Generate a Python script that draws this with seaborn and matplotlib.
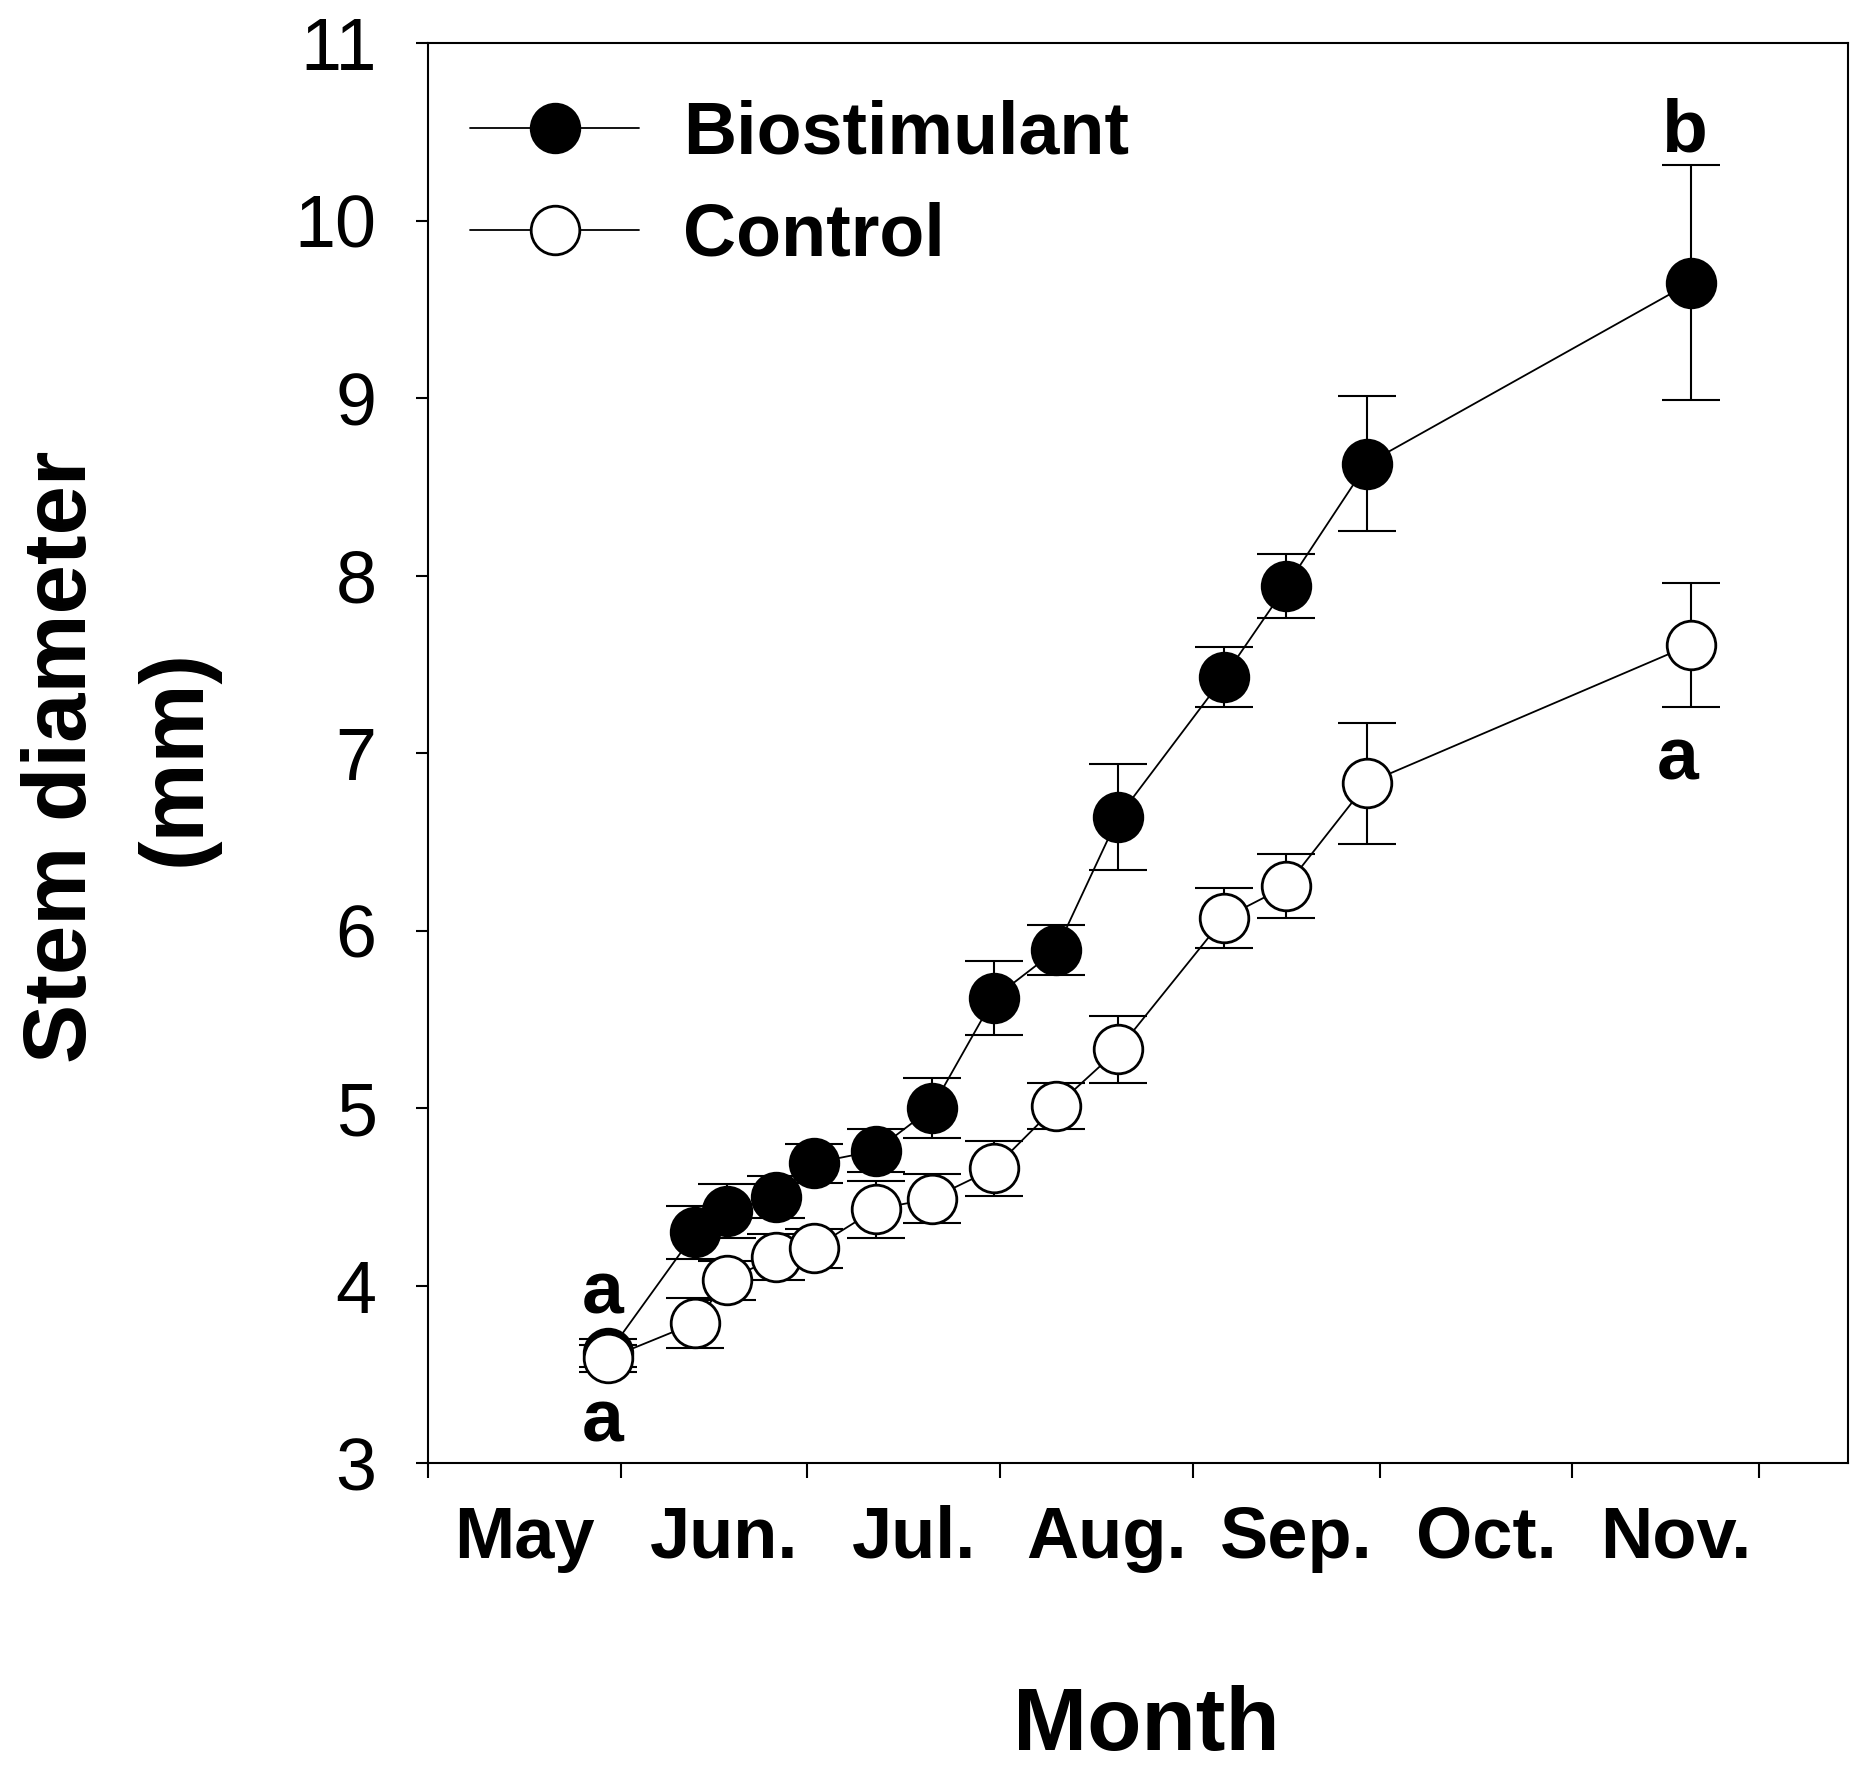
import numpy as np
import seaborn as sns
import matplotlib.pyplot as plt
from matplotlib.lines import Line2D

# sampling dates as day counted from 1 May
days = [29, 43, 48, 56, 62, 72, 81, 91, 101, 111, 128, 138, 151, 203]

bio = [3.62, 4.30, 4.42, 4.50, 4.69, 4.76, 5.00, 5.62, 5.89, 6.64, 7.43, 7.94, 8.63, 9.65]
bio_err = [0.08, 0.15, 0.15, 0.12, 0.11, 0.12, 0.17, 0.21, 0.14, 0.30, 0.17, 0.18, 0.38, 0.66]

ctrl = [3.59, 3.79, 4.03, 4.16, 4.21, 4.43, 4.49, 4.66, 5.01, 5.33, 6.07, 6.25, 6.83, 7.61]
ctrl_err = [0.075, 0.14, 0.11, 0.13, 0.11, 0.16, 0.14, 0.155, 0.13, 0.19, 0.17, 0.18, 0.34, 0.35]

month_starts = [0, 31, 61, 92, 123, 153, 184, 214]
month_names = ['May', 'Jun.', 'Jul.', 'Aug.', 'Sep.', 'Oct.', 'Nov.']

# significance letters (day, value, letter)
letters = [(28, 3.95, 'a'), (28, 3.23, 'a'), (202, 10.50, 'b'), (201, 6.96, 'a')]

sns.set_theme(style='ticks')
plt.rcParams['font.family'] = ['Liberation Sans', 'DejaVu Sans']
plt.rcParams.update({'text.color': 'black', 'axes.labelcolor': 'black',
                     'xtick.color': 'black', 'ytick.color': 'black',
                     'axes.edgecolor': 'black'})

fig = plt.figure(figsize=(18.6, 17.7), dpi=100)
ax = fig.add_axes([0.2301, 0.1734, 0.7634, 0.8023])

ms = 35
lw_line = 1.3

ax.errorbar(days, bio, yerr=bio_err, fmt='none', ecolor='black', elinewidth=1.5,
            capsize=21, capthick=1.5, zorder=2)
sns.lineplot(x=days, y=bio, ax=ax, color='black', lw=lw_line, marker='o', markersize=ms,
             markerfacecolor='black', markeredgecolor='black', markeredgewidth=2, zorder=3)

ax.errorbar(days, ctrl, yerr=ctrl_err, fmt='none', ecolor='black', elinewidth=1.5,
            capsize=21, capthick=1.5, zorder=4)
sns.lineplot(x=days, y=ctrl, ax=ax, color='black', lw=lw_line, marker='o', markersize=ms,
             markerfacecolor='white', markeredgecolor='black', markeredgewidth=2, zorder=5)

for d, v, t in letters:
    ax.text(d, v, t, ha='center', va='center', fontsize=54, fontweight='bold',
            color='black', zorder=6)

ax.set_xlim(0, 228.3)
ax.set_ylim(3, 11)
ax.set_yticks(range(3, 12))
ax.set_xticks(month_starts)
ax.set_xticklabels([])
# labels centred on the month name without its trailing period
mids = [(month_starts[i] + month_starts[i + 1]) / 2 + (1.6 if name.endswith('.') else 0)
        for i, name in enumerate(month_names)]
ax.set_xticks(mids, minor=True)
ax.set_xticklabels(month_names, minor=True, fontsize=52, fontweight='bold')
ax.tick_params(axis='x', which='minor', length=0, pad=30)
ax.tick_params(axis='x', which='major', length=11, width=1.5, direction='out')
ax.tick_params(axis='y', which='major', length=9, width=1.5, direction='out',
               labelsize=53, pad=28)

for s in ax.spines.values():
    s.set_visible(True)
    s.set_linewidth(1.5)
    s.set_color('black')

ax.set_xlabel('Month', fontsize=64, fontweight='bold', va='center')
ax.xaxis.set_label_coords(0.506, -0.1856)
ax.set_ylabel('Stem diameter\n(mm)', fontsize=64, fontweight='bold', va='center',
              linespacing=1.45)
ax.yaxis.set_label_coords(-0.217, 0.497)

handles = [
    Line2D([], [], color='black', lw=lw_line, marker='o', markersize=ms,
           markerfacecolor='black', markeredgecolor='black', markeredgewidth=2),
    Line2D([], [], color='black', lw=lw_line, marker='o', markersize=ms,
           markerfacecolor='white', markeredgecolor='black', markeredgewidth=2),
]
leg = ax.legend(handles, ['Biostimulant', 'Control'], loc='upper left',
                bbox_to_anchor=(0.0296, 0.96), frameon=False, borderpad=0,
                borderaxespad=0, handlelength=2.3, handletextpad=0.6,
                labelspacing=0.45, prop={'size': 53, 'weight': 'bold'})
for txt in leg.get_texts():
    txt.set_color('black')

fig.savefig('out.png', dpi=100)
